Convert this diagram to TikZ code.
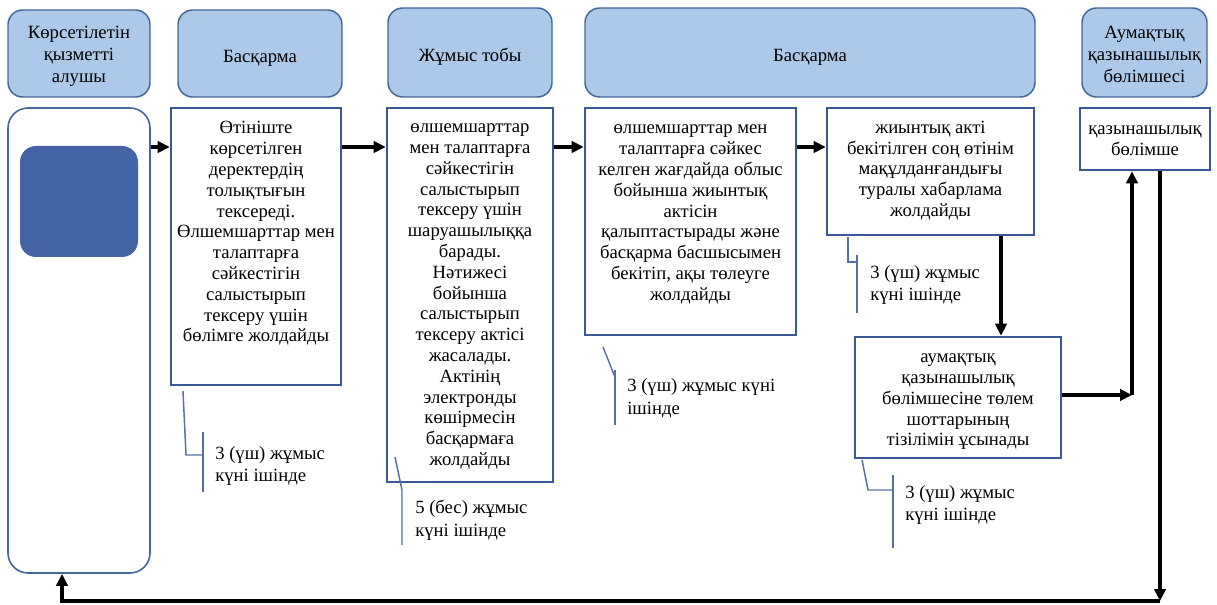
\documentclass[tikz,border=0pt]{standalone}
\usepackage{fontspec}
\setmainfont{Liberation Serif}
\usetikzlibrary{arrows.meta}
\definecolor{hdrfill}{RGB}{172,201,234}
\definecolor{hdrline}{RGB}{66,104,152}
\definecolor{boxline}{RGB}{58,88,150}
\definecolor{tagline}{RGB}{84,112,160}
\definecolor{innerfill}{RGB}{69,100,166}
\begin{document}
\begin{tikzpicture}[x=0.75pt,y=-0.75pt,
  hdr/.style={draw=hdrline, line width=1.1pt, fill=hdrfill, rounded corners=11pt, inner sep=0pt},
  client/.style={draw=hdrline, line width=1.2pt, fill=white, rounded corners=15pt, inner sep=0pt},
  stepbox/.style={draw=boxline, line width=1.9pt, fill=white, inner sep=0pt},
  htxt/.style={align=center, inner sep=0pt, font=\fontsize{14}{16.5}\selectfont},
  txt/.style={align=center, inner sep=0pt, font=\fontsize{14}{15.6}\selectfont},
  note/.style={anchor=west, align=left, inner sep=0pt, font=\fontsize{14}{17}\selectfont},
  flow/.style={line width=2.8pt, -{Triangle[length=9pt,width=8.5pt]}},
  tag/.style={draw=tagline, line width=1.1pt}
]
\useasboundingbox (0,0) rectangle (1217,605);

% lane headers
\node[hdr, minimum width=106.5pt, minimum height=65.25pt] (h1) at (79,53.5) {};
\node[htxt] (h1t) at (79,56.5) {Көрсетілетін\\қызметті\\алушы};
\node[hdr, minimum width=123pt, minimum height=65.25pt] (h2) at (260,53.5) {};
\node[htxt] (h2t) at (260,58) {Басқарма};
\node[hdr, minimum width=123pt, minimum height=66.75pt] (h3) at (470,52.5) {};
\node[htxt] (h3t) at (470,57) {Жұмыс тобы};
\node[hdr, minimum width=337.5pt, minimum height=66.75pt] (h4) at (810,52.5) {};
\node[htxt] (h4t) at (810,57) {Басқарма};
\node[hdr, minimum width=93.75pt, minimum height=66.75pt] (h5) at (1144.5,52.5) {};
\node[htxt] (h5t) at (1144.5,54.5) {Аумақтық\\қазынашылық\\бөлімшесі};

% service recipient column
\node[client, minimum width=106.5pt, minimum height=348.75pt] (L) at (79,340.5) {};
\node[draw=none, fill=innerfill, rounded corners=12pt, minimum width=88.5pt,
  minimum height=83.25pt, inner sep=0pt] (Lin) at (79,201.5) {};

% process steps
\node[stepbox, minimum width=127.5pt, minimum height=207.75pt] (b1) at (256,246.5) {};
\node[txt] (b1t) at (256,233.5) {Өтініште\\көрсетілген\\деректердің\\толықтығын\\тексереді.\\Өлшемшарттар мен\\талаптарға\\сәйкестігін\\салыстырып\\тексеру үшін\\бөлімге жолдайды};

\node[stepbox, minimum width=124.5pt, minimum height=280.5pt] (b2) at (470,295) {};
\node[txt] (b2t) at (470,296.5) {өлшемшарттар\\мен талаптарға\\сәйкестігін\\салыстырып\\тексеру үшін\\шаруашылыққа\\барады.\\Нәтижесі\\бойынша\\салыстырып\\тексеру актісі\\жасалады.\\Актінің\\электронды\\көшірмесін\\басқармаға\\жолдайды};

\node[stepbox, minimum width=158.25pt, minimum height=170.25pt] (b3) at (690.5,221.5) {};
\node[txt] (b3t) at (690.5,214.5) {өлшемшарттар мен\\талаптарға сәйкес\\келген жағдайда облыс\\бойынша жиынтық\\актісін\\қалыптастырады және\\басқарма басшысымен\\бекітіп, ақы төлеуге\\жолдайды};

\node[stepbox, minimum width=155.25pt, minimum height=95.25pt] (b4) at (930.5,171.5) {};
\node[txt] (b4t) at (930.5,170.5) {жиынтық акті\\бекітілген соң өтінім\\мақұлданғандығы\\туралы хабарлама\\жолдайды};

\node[stepbox, minimum width=154.5pt, minimum height=90.75pt] (b5) at (958,397.5) {};
\node[txt] (b5t) at (958,402) {аумақтық\\қазынашылық\\бөлімшесіне төлем\\шоттарының\\тізілімін ұсынады};

\node[stepbox, minimum width=97.5pt, minimum height=46.5pt] (b6) at (1145,139) {};
\node[txt] (b6t) at (1145,141) {қазынашылық\\бөлімше};

% connectors
\draw[flow] (L.east |- 0,147) -- (b1.west |- 0,147);
\draw[flow] (b1.east |- 0,147) -- (b2.west |- 0,147);
\draw[flow] (b2.east |- 0,147) -- (b3.west |- 0,147);
\draw[flow] (b3.east |- 0,147) -- (b4.west |- 0,147);
\draw[flow] (b4.south -| 1001,0) -- (b5.north -| 1001,0);
\coordinate (c1) at (1132,395);
\draw[flow] (b5.east |- c1) -- (c1);
\draw[flow] (c1) -- (b6.south -| c1);
\coordinate (c2) at (1160,601);
\coordinate (c3) at (62,601);
\draw[flow] (b6.south -| c2) -- (c2);
\draw[flow] (c2) -- (c3) -- (L.south -| c3);

% time-limit callouts
\coordinate (n1a) at (183,391);
\draw[tag] (n1a) -- (186,455) -- (203,455);
\draw[tag] (203,432) -- (203,492);
\node[note] (n1) at (215,466) {3 (үш) жұмыс\\күні ішінде};

\coordinate (n2a) at (395,457);
\draw[tag] (n2a) -- (402,490) -- (402,545);
\node[note] (n2) at (415,520) {5 (бес) жұмыс\\күні ішінде};

\coordinate (n3a) at (603,347);
\draw[tag] (n3a) -- (615,377);
\draw[tag] (615,370) -- (615,425);
\node[note] (n3) at (627,398) {3 (үш) жұмыс күні\\ішінде};

\coordinate (n4a) at (848,237);
\draw[tag] (n4a) -- (848,262) -- (857,262);
\draw[tag] (857,255) -- (857,313);
\node[note] (n4) at (870,285) {3 (үш) жұмыс\\күні ішінде};

\coordinate (n5a) at (862,460);
\draw[tag] (n5a) -- (868,490) -- (893,490);
\draw[tag] (893,475) -- (893,548);
\node[note] (n5) at (905,505) {3 (үш) жұмыс\\күні ішінде};
\end{tikzpicture}
\end{document}
